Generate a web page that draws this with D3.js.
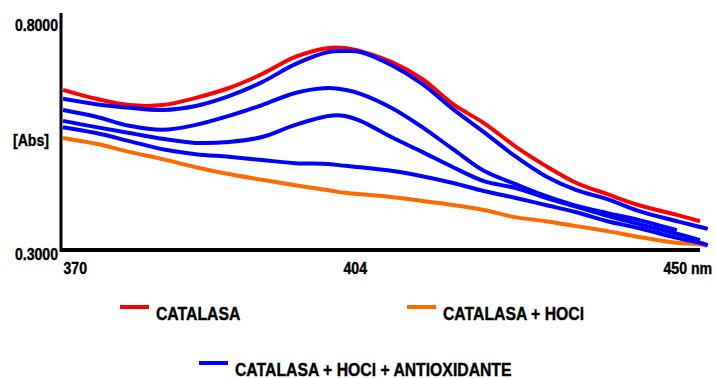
<!DOCTYPE html>
<html>
<head>
<meta charset="utf-8">
<script src="https://cdn.jsdelivr.net/npm/d3@7"></script>
<style>
  body { margin: 0; background: #fff; }
  svg text { font-family: "Liberation Sans Narrow", "Arial Narrow", "Liberation Sans", Arial, sans-serif; font-weight: bold; fill: #000; stroke: #000; stroke-width: 0.4px; }
</style>
</head>
<body>
<svg id="chart" width="716" height="379"></svg>
<script>
const wavelengths = [370, 374, 378, 382, 386, 390, 394, 398, 402, 404, 406, 410, 414, 418, 422, 426, 430, 434, 438, 442, 447, 450, 451];

// absorbance, null = curve already ended
const catalasa = [0.656, 0.636, 0.622, 0.622, 0.638, 0.660, 0.691, 0.729, 0.749, 0.749, 0.742, 0.718, 0.680, 0.624, 0.582, 0.531, 0.487, 0.449, 0.424, 0.400, 0.378, 0.364, null];
const catalasaHocl = [0.549, 0.536, 0.518, 0.502, 0.484, 0.469, 0.456, 0.444, 0.433, 0.427, 0.424, 0.418, 0.409, 0.400, 0.389, 0.373, 0.364, 0.353, 0.342, 0.329, 0.316, 0.313, 0.309];
const antiox1 = [0.636, 0.624, 0.616, 0.611, 0.620, 0.642, 0.673, 0.713, 0.740, 0.742, 0.740, 0.711, 0.669, 0.613, 0.562, 0.509, 0.464, 0.433, 0.413, 0.387, 0.364, 0.351, 0.347];
const antiox2 = [0.611, 0.596, 0.576, 0.567, 0.578, 0.598, 0.622, 0.649, 0.660, 0.656, 0.647, 0.616, 0.573, 0.524, 0.476, 0.447, 0.420, 0.398, 0.382, 0.367, 0.344, null, null];
const antiox3 = [0.587, 0.573, 0.560, 0.547, 0.538, 0.540, 0.551, 0.578, 0.598, 0.598, 0.587, 0.551, 0.518, 0.484, 0.453, 0.438, 0.416, 0.396, 0.376, 0.358, 0.336, 0.322, null];
const antiox4 = [0.573, 0.560, 0.542, 0.524, 0.513, 0.507, 0.500, 0.493, 0.491, 0.487, 0.484, 0.476, 0.464, 0.449, 0.431, 0.416, 0.400, 0.384, 0.364, 0.349, 0.327, 0.316, 0.311];

const xTicks = [370, 404, 450];
const yTicks = [0.3, 0.8];

const RED = "#ff0000", ORANGE = "#ff6a00", BLUE = "#0000ff";

// draw order: orange, red, then the blue ones on top
const series = [
    { values: catalasaHocl, color: ORANGE },
    { values: catalasa, color: RED },
    { values: antiox4, color: BLUE },
    { values: antiox3, color: BLUE },
    { values: antiox2, color: BLUE },
    { values: antiox1, color: BLUE }
];

const legendItems = [
    { label: "CATALASA", color: RED },
    { label: "CATALASA + HOCl", color: ORANGE },
    { label: "CATALASA + HOCl + ANTIOXIDANTE", color: BLUE }
];

const svg = d3.select("#chart");

// wavelength axis is not evenly spaced in the original, so use a polylinear scale
const x = d3.scaleLinear().domain(xTicks).range([63, 345, 700]);
const y = d3.scaleLinear().domain([0.3, 0.8]).range([250, 25]);

// --- curves ---
const line = d3.line()
    .defined(d => d[1] != null)
    .x(d => x(d[0]))
    .y(d => y(d[1]))
    .curve(d3.curveCatmullRom.alpha(0.5));

svg.append("g")
    .selectAll("path")
    .data(series)
    .join("path")
    .attr("d", s => line(wavelengths.map((w, i) => [w, s.values[i]])))
    .attr("fill", "none")
    .attr("stroke", s => s.color)
    .attr("stroke-width", 4)
    .attr("stroke-linejoin", "round");

// --- axes ---
const xAxis = svg.append("g")
    .attr("transform", `translate(0,${y(0.3)})`)
    .call(d3.axisBottom(x).tickValues(xTicks).tickSize(0)
        .tickFormat(d => d === 450 ? "450 nm" : d));
xAxis.select(".domain").remove();
xAxis.selectAll("text")
    .attr("y", 12)
    .attr("font-size", 17)
    .attr("text-anchor", "start")
    .attr("dx", d => d === 450 ? -37 : (d === 404 ? -2 : 0));

const yAxis = svg.append("g")
    .attr("transform", `translate(${x(370) - 2},0)`)
    .call(d3.axisLeft(y).tickValues(yTicks).tickSize(0).tickPadding(3)
        .tickFormat(d3.format(".4f")));
yAxis.select(".domain").remove();
yAxis.selectAll("text")
    .attr("font-size", 17)
    .attr("dy", d => d === 0.3 ? "0.55em" : "0.32em");

// axis lines
svg.append("line")
    .attr("x1", x(370) - 2).attr("x2", x(370) - 2)
    .attr("y1", y(0.3) + 2).attr("y2", y(0.8) - 12)
    .attr("stroke", "#000").attr("stroke-width", 3);
svg.append("line")
    .attr("x1", x(370) - 3).attr("x2", x(450))
    .attr("y1", y(0.3)).attr("y2", y(0.3))
    .attr("stroke", "#000").attr("stroke-width", 4);

svg.append("text")
    .attr("x", 13).attr("y", 146)
    .attr("font-size", 17)
    .text("[Abs]");

// --- legend ---
const legendPos = [[120, 307], [407, 307], [199, 363]];
const legend = svg.append("g")
    .selectAll("g")
    .data(legendItems)
    .join("g")
    .attr("transform", (d, i) => `translate(${legendPos[i][0]},${legendPos[i][1]})`);

legend.append("line")
    .attr("x1", 0).attr("x2", 29)
    .attr("stroke", d => d.color)
    .attr("stroke-width", 4);

legend.append("text")
    .attr("x", 36).attr("y", 13)
    .attr("font-size", 19)
    .text(d => d.label);

// no narrow font installed: squeeze every text horizontally around its anchor
svg.selectAll("text").each(function () {
    const b = this.getBBox();
    const anchor = getComputedStyle(this).textAnchor;
    const p = anchor === "end" ? b.x + b.width : b.x;
    d3.select(this).attr("transform", `translate(${p},0) scale(0.83,1) translate(${-p},0)`);
});
</script>
</body>
</html>
